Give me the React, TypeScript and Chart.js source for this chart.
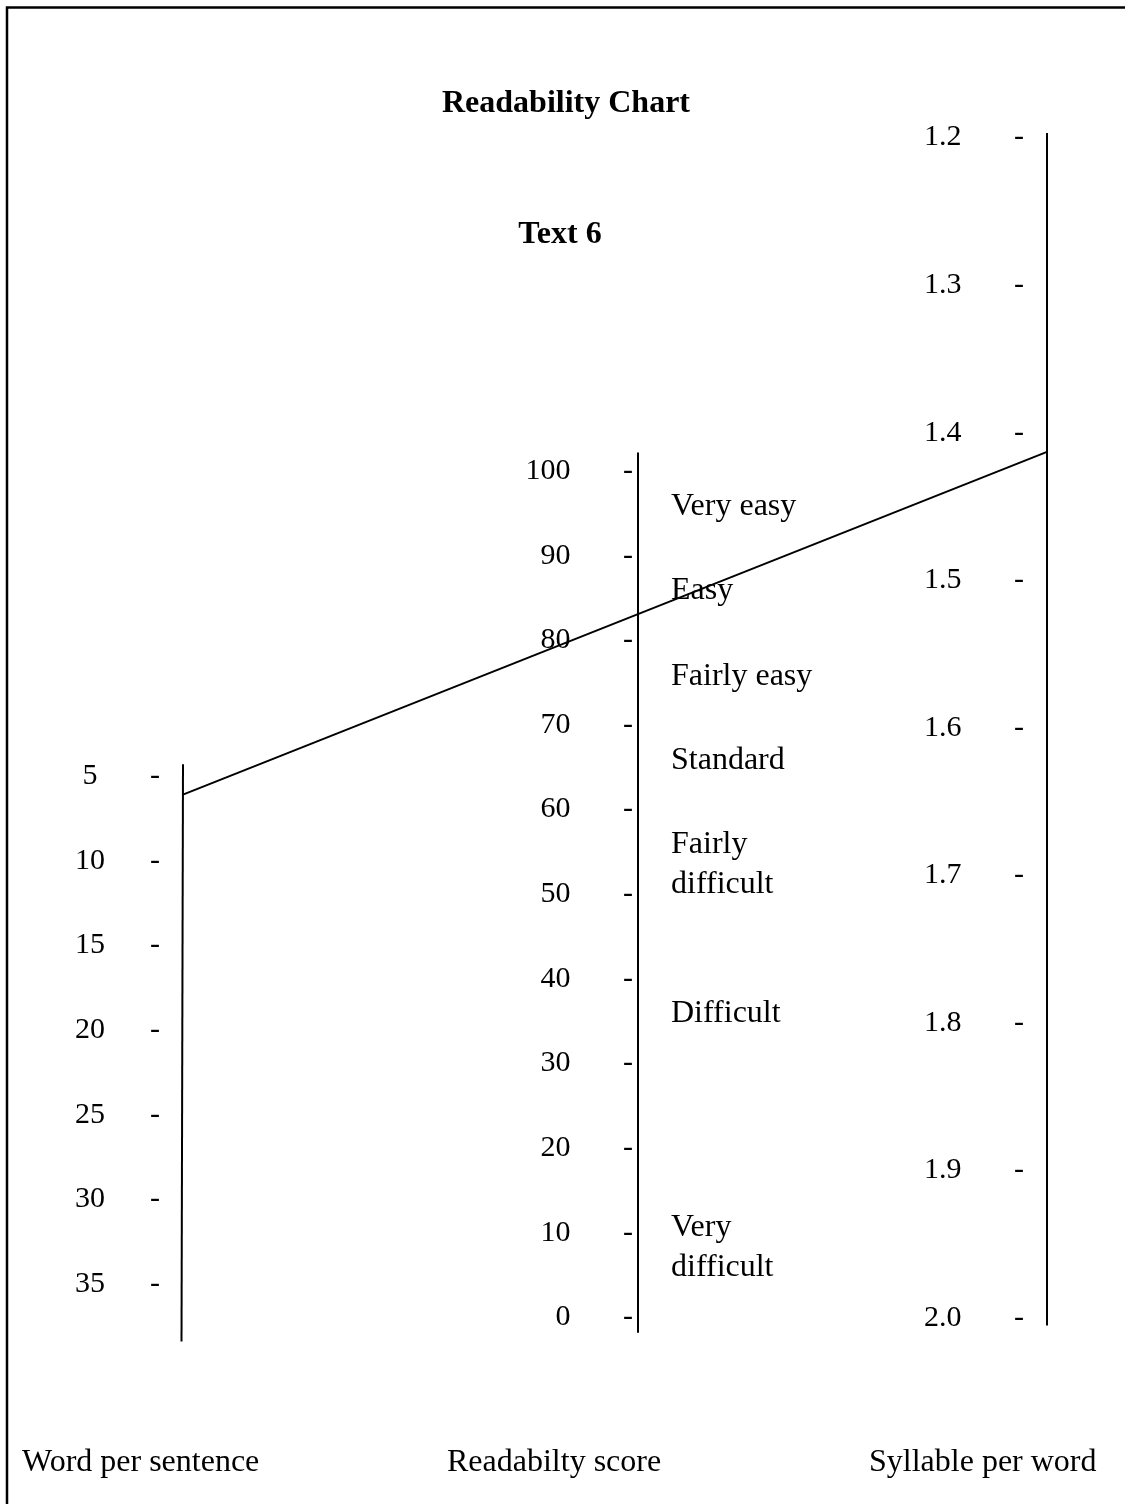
import React, { useEffect, useRef } from "react";
import { Chart, registerables } from "chart.js";

Chart.register(...registerables);

// ---------- data ----------
const TITLE = "Readability Chart";
const SUBTITLE = "Text 6";

const WPS_TICKS = [5, 10, 15, 20, 25, 30, 35];
const SCORE_TICKS = [0, 10, 20, 30, 40, 50, 60, 70, 80, 90, 100];
const SPW_TICKS = [1.2, 1.3, 1.4, 1.5, 1.6, 1.7, 1.8, 1.9, 2.0];

// extent of each drawn axis line, in that axis' own units
const WPS_EXTENT = [4.3, 38.4];
const SCORE_EXTENT = [-1.8, 102.2];
const SPW_EXTENT = [1.197, 2.005];

const BAND_LABELS = [
  ["Very easy"],
  ["Easy"],
  ["Fairly easy"],
  ["Standard"],
  ["Fairly", "difficult"],
  ["Difficult"],
  ["Very", "difficult"],
];
const BAND_SCORES = [95.8, 85.9, 75.7, 65.8, 53.5, 35.9, 8.3];

const AXIS_TITLES = ["Word per sentence", "Readabilty score", "Syllable per word"];

// the text being rated
const TEXT_WPS = 6.1;
const TEXT_SPW = 1.413;

// ---------- layout ----------
const W = 1125;
const H = 1504;
const PAD_Y = 40;
const AREA_TOP = PAD_Y;
const AREA_BOTTOM = H - PAD_Y;

const WPS_LINE_X = [183, 181.5];
const SCORE_LINE_X = 638;
const SPW_LINE_X = 1047;
const WPS_TICK_X = 160;
const SCORE_TICK_X = 633;
const SPW_TICK_X = 1024;
const BAND_X = 671;
const AXIS_TITLE_X = [22, 447, 869];
const AXIS_TITLE_Y = 1463;

const SERIF = '"Liberation Serif", "Times New Roman", serif';

function rangeFor(v1: number, p1: number, v2: number, p2: number) {
  const k = (p2 - p1) / (v2 - v1);
  const vTop = v1 + (AREA_TOP - p1) / k;
  const vBot = v1 + (AREA_BOTTOM - p1) / k;
  return vTop > vBot
    ? { min: vBot, max: vTop, reverse: false }
    : { min: vTop, max: vBot, reverse: true };
}

const WPS_RANGE = rangeFor(5, 776, 35, 1284);
const SCORE_RANGE = rangeFor(100, 471, 0, 1317.5);
const SPW_RANGE = rangeFor(1.2, 137.5, 2.0, 1318);

function yScale(r: any, x: number, ticks: number[], fmt: (v: number) => string) {
  return {
    type: "linear",
    min: r.min,
    max: r.max,
    reverse: r.reverse,
    position: { x },
    grid: { display: false, drawTicks: false },
    border: { display: false },
    afterBuildTicks: (s: any) => {
      s.ticks = ticks.map((v) => ({ value: v }));
    },
    ticks: {
      callback: (v: any) => fmt(Number(v)),
      padding: 0,
      autoSkip: false,
      color: "#000",
      font: { family: SERIF, size: 30 },
    },
  };
}

const sp = (n: number) => " ".repeat(n);

const overlay = {
  id: "nomogramOverlay",
  afterDraw(chart: any) {
    const ctx = chart.ctx;
    const wps = chart.scales.wps;
    const spw = chart.scales.spw;
    const score = chart.scales.score;
    ctx.save();
    // frame
    ctx.strokeStyle = "#000";
    ctx.lineWidth = 2.5;
    ctx.beginPath();
    ctx.moveTo(7, H);
    ctx.lineTo(7, 7.5);
    ctx.lineTo(W, 7.5);
    ctx.stroke();

    // connecting line
    const yW = wps.getPixelForValue(TEXT_WPS);
    const tW = (yW - wps.getPixelForValue(WPS_EXTENT[0])) /
      (wps.getPixelForValue(WPS_EXTENT[1]) - wps.getPixelForValue(WPS_EXTENT[0]));
    const xW = WPS_LINE_X[0] + (WPS_LINE_X[1] - WPS_LINE_X[0]) * tW;
    ctx.lineWidth = 2;
    ctx.beginPath();
    ctx.moveTo(xW, yW);
    ctx.lineTo(SPW_LINE_X, spw.getPixelForValue(TEXT_SPW));
    ctx.stroke();

    // titles
    ctx.fillStyle = "#000";
    ctx.textAlign = "center";
    ctx.textBaseline = "alphabetic";
    ctx.font = `bold 32px ${SERIF}`;
    ctx.fillText(TITLE, 566, 112);
    ctx.fillText(SUBTITLE, 560, 243);

    // band labels
    ctx.font = `32px ${SERIF}`;
    ctx.textAlign = "left";
    ctx.textBaseline = "middle";
    BAND_LABELS.forEach((lines, i) => {
      const cy = score.getPixelForValue(BAND_SCORES[i]);
      lines.forEach((t, j) => {
        ctx.fillText(t, BAND_X, cy + (j - (lines.length - 1) / 2) * 40);
      });
    });

    // axis titles
    AXIS_TITLES.forEach((t, i) => {
      ctx.fillText(t, AXIS_TITLE_X[i], AXIS_TITLE_Y);
    });
    ctx.restore();
  },
};

const lineDs = (pts: { x: number; y: number }[], yAxisID: string) => ({
  data: pts,
  yAxisID,
  xAxisID: "x",
  showLine: true,
  borderColor: "#000",
  borderWidth: 2,
  pointRadius: 0,
  pointHoverRadius: 0,
  fill: false,
});

export default function App() {
  const ref = useRef<HTMLCanvasElement | null>(null);
  useEffect(() => {
    if (!ref.current) return;
    const chart = new Chart(ref.current, {
      type: "scatter",
      data: {
        datasets: [
          lineDs(
            [
              { x: WPS_LINE_X[0], y: WPS_EXTENT[0] },
              { x: WPS_LINE_X[1], y: WPS_EXTENT[1] },
            ],
            "wps"
          ),
          lineDs(
            [
              { x: SCORE_LINE_X, y: SCORE_EXTENT[0] },
              { x: SCORE_LINE_X, y: SCORE_EXTENT[1] },
            ],
            "score"
          ),
          lineDs(
            [
              { x: SPW_LINE_X, y: SPW_EXTENT[0] },
              { x: SPW_LINE_X, y: SPW_EXTENT[1] },
            ],
            "spw"
          ),
        ] as any,
      },
      options: {
        animation: false,
        responsive: false,
        events: [],
        layout: { padding: { top: PAD_Y, bottom: PAD_Y, left: 0, right: 0 } },
        plugins: {
          legend: { display: false },
          tooltip: { enabled: false },
          title: { display: false },
        },
        scales: {
          x: { type: "linear", min: 0, max: W, display: false },
          wps: yScale(WPS_RANGE, WPS_TICK_X, WPS_TICKS, (v) => `${v}${sp(v < 10 ? 7 : 6)}-`),
          score: yScale(SCORE_RANGE, SCORE_TICK_X, SCORE_TICKS, (v) => `${v}${sp(7)}-`),
          spw: yScale(SPW_RANGE, SPW_TICK_X, SPW_TICKS, (v) => `${v.toFixed(1)}${sp(7)}-`),
        } as any,
      },
      plugins: [overlay],
    });
    return () => chart.destroy();
  }, []);
  return (
    <div
      style={{
        position: "absolute",
        left: 0,
        top: 0,
        width: W,
        height: H,
        background: "#fff",
        overflow: "hidden",
      }}
    >
      <canvas ref={ref} width={W} height={H} style={{ width: W, height: H, display: "block" }} />
    </div>
  );
}
